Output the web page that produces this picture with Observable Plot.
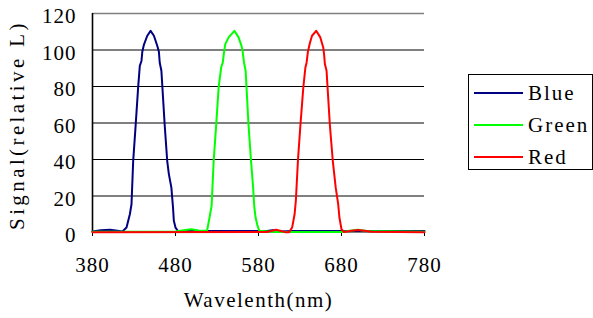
<!DOCTYPE html>
<html>
<head>
<meta charset="utf-8">
<script src="https://cdn.jsdelivr.net/npm/d3@7"></script>
<script src="https://cdn.jsdelivr.net/npm/@observablehq/plot@0.6"></script>
<style>
  body { margin: 0; background: #fff; }
  #wrap { position: relative; width: 593px; height: 318px; font-family: "Liberation Serif", serif; }
  #legend { position: absolute; left: 468px; top: 74px; width: 125px; height: 96px; border: 1px solid #000; box-sizing: border-box; background: #fff; }
  .row { position: absolute; left: 5px; height: 20px; display: flex; align-items: center; }
  .sw { width: 49px; height: 2px; margin-right: 5px; }
  .lab { font-size: 21px; color: #000; line-height: 20px; letter-spacing: 2px; }
</style>
</head>
<body>
<div id="wrap"></div>
<script>
// ---- data ----
const seriesNames = ["Blue", "Green", "Red"];
const seriesColors = ["#000080", "#00ff00", "#ff0000"];
const xTicks = [380, 480, 580, 680, 780];
const yTicks = [0, 20, 40, 60, 80, 100, 120];
const xTitle = "Wavelenth(nm)";
const yTitle = "Signal(relative L)";

const blueNm  = [380, 390, 401, 410, 416, 421, 425, 427, 429, 432, 435, 437, 439, 440, 442, 446, 450, 454, 458, 460, 461, 463, 467, 470, 472, 475, 477, 478, 480, 483, 500, 560, 590, 597, 602, 608, 620, 700, 780];
const blueVal = [0.6, 1.2, 1.5, 1.0, 0.6, 2.7, 10, 15.5, 39, 58.8, 79.5, 91.3, 94, 99, 103, 107.8, 110.5, 107.8, 102.3, 99, 93, 88.6, 58.8, 39.3, 32, 24.7, 13.7, 6.4, 2.7, 0.8, 0.8, 0.8, 0.8, 1.3, 0.9, 0.6, 0.8, 0.8, 0.8];

const greenNm  = [380, 480, 490, 499, 508, 518, 521, 523.5, 526, 529, 532, 535, 537, 538.5, 540, 544, 551, 556, 559.5, 561, 562.5, 564.5, 568, 571, 573.5, 575, 576.5, 578.5, 581, 600, 680, 690, 700, 710, 780];
const greenVal = [0.4, 0.5, 1.2, 1.8, 1.1, 0.9, 8.2, 14.6, 39.3, 58.8, 79.5, 90.4, 93.2, 99, 103.2, 106.9, 110.5, 106.9, 102.3, 99, 93.2, 88.6, 58.8, 39.3, 24.7, 13.7, 8.2, 4.2, 0.9, 0.3, 0.3, 1.0, 1.5, 0.8, 0.4];

const redNm  = [380, 590, 596, 601, 606, 612, 617, 620.5, 623.5, 625, 627.5, 630.5, 634, 636.5, 638, 639.5, 642, 644.5, 649.5, 654.5, 658, 659, 660, 662, 666, 669.5, 673, 676, 677.5, 680, 683, 692, 700, 708, 716, 780];
const redVal = [0.2, 0.3, 0.9, 1.5, 1.0, 0.2, 0.2, 2.7, 10, 17.4, 39.3, 58.8, 79.5, 90.4, 93.2, 99, 104, 107.8, 110.5, 106.9, 101.4, 97.7, 92.3, 88.6, 58.8, 39.3, 24.7, 15.6, 8.2, 1.8, 0.3, 1.0, 1.4, 1.0, 0.4, 0.2];

// ---- build tables ----
const seriesData = [[blueNm, blueVal], [greenNm, greenVal], [redNm, redVal]].map(([xs, vs]) =>
  xs.map((x, j) => ({nm: x, v: vs[j]})));

const chart = Plot.plot({
  width: 593,
  height: 318,
  marginLeft: 92,
  marginRight: 169,
  marginTop: 13,
  marginBottom: 86,
  style: {fontFamily: "Liberation Serif", fontSize: "21px", background: "white", color: "#000"},
  x: {domain: [380, 780]},
  y: {domain: [0, 120]},
  marks: [
    Plot.ruleY(yTicks.filter(d => d > 0 && d < 120), {stroke: "#000", strokeWidth: 1}),
    Plot.ruleY([120], {stroke: "#808080", strokeWidth: 1.6}),
    Plot.ruleY([0], {stroke: "#808080", strokeWidth: 1.2}),
    Plot.axisX({ticks: xTicks, tickSize: 4, tickPadding: 21, tickFormat: d => String(d), label: null, fontSize: 21}),
    Plot.axisY({ticks: yTicks, tickSize: 0, tickPadding: 16, dy: 3, tickFormat: d => String(d), label: null, fontSize: 21}),
    Plot.ruleX([380], {stroke: "#000", strokeWidth: 1.6}),
    ...seriesData.map((d, i) => Plot.line(d, {x: "nm", y: "v", stroke: seriesColors[i], strokeWidth: 2})),
    Plot.text([xTitle], {frameAnchor: "bottom", textAnchor: "middle", lineAnchor: "middle", dy: 67.5, fontSize: 21}),
    Plot.text([yTitle], {frameAnchor: "left", textAnchor: "middle", lineAnchor: "middle", rotate: -90, dx: -75, dy: 2, fontSize: 21})
  ]
});

d3.select(chart).selectAll("text").each(function () {
  const t = this.textContent;
  const ls = t === xTitle ? "1.5px" : t === yTitle ? "3.4px" : "1px";
  this.setAttribute("letter-spacing", ls);
  this.style.letterSpacing = ls;
});

const wrap = document.getElementById("wrap");
wrap.appendChild(chart);

// legend
const leg = document.createElement("div");
leg.id = "legend";
const rowTops = [8, 40, 72];
seriesNames.forEach((n, i) => {
  const r = document.createElement("div");
  r.className = "row";
  r.style.top = rowTops[i] + "px";
  const sw = document.createElement("div");
  sw.className = "sw";
  sw.style.background = seriesColors[i];
  const lb = document.createElement("span");
  lb.className = "lab";
  lb.textContent = n;
  r.appendChild(sw); r.appendChild(lb);
  leg.appendChild(r);
});
wrap.appendChild(leg);
</script>
</body>
</html>
